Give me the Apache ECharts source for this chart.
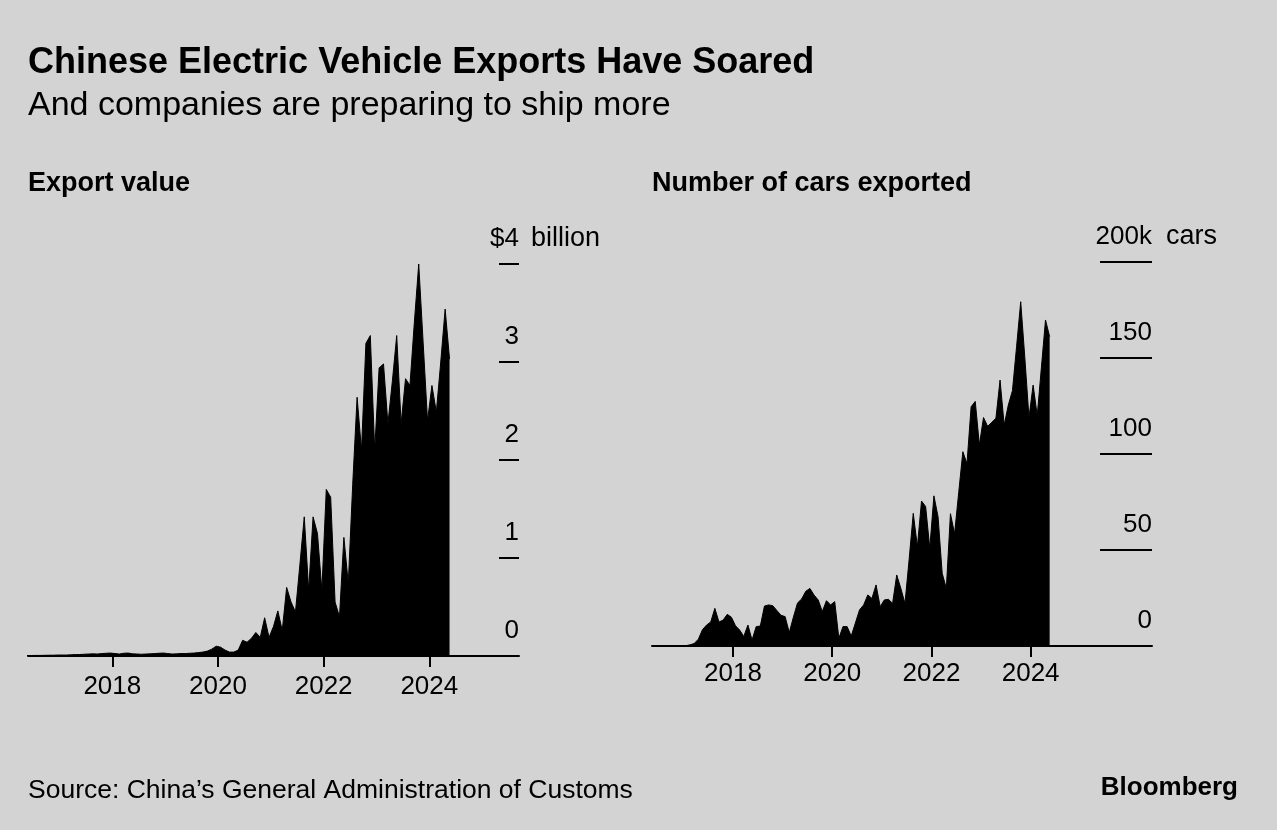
<!DOCTYPE html>
<html><head><meta charset="utf-8">
<script src="https://cdn.jsdelivr.net/npm/echarts@6/dist/echarts.min.js"></script>
<style>html,body{margin:0;padding:0;background:#d3d3d3;}#c{width:1277px;height:830px;}</style>
</head><body><div id="c"></div>
<script>
// ---- data (monthly, first month = May 2016, last = May 2024) ----
const startYear = 2016;
const startMonth = 5;
// Export value, $ billion
const exportValue = [
  0.005,0.005,0.006,0.006,0.007,0.008,0.008,0.01,
  0.01,0.01,0.012,0.015,0.015,0.018,0.02,0.022,0.02,0.025,0.028,0.03,
  0.025,0.02,0.028,0.03,0.022,0.02,0.018,0.02,0.022,0.025,0.028,0.03,
  0.025,0.02,0.022,0.025,0.025,0.028,0.03,0.035,
  0.04,0.05,0.07,0.10,0.09,0.06,0.04,0.04,
  0.06,0.16,0.14,0.18,0.24,0.19,0.39,0.19,0.30,0.46,0.26,0.70,
  0.55,0.45,0.93,1.42,0.67,1.42,1.25,0.67,1.70,1.62,0.55,0.40,
  1.21,0.74,1.75,2.64,2.10,3.19,3.27,2.10,2.94,2.98,2.37,2.80,
  3.27,2.37,2.83,2.76,3.40,4.00,3.20,2.40,2.76,2.49,3.00,3.54,3.03
];
// Number of cars exported, thousands
const carsExported = [
  0,0,0,0,0,0,0,0,
  0.2,0.6,1.3,3.5,8.5,10.9,12.5,19.6,12.5,13.5,16.5,15,
  10.5,8.3,5,10.9,3.1,10.1,10.4,20.8,21.4,21.0,18.5,16,
  15.3,7,15,22.4,24.5,28.5,30,26.5,24,18,23.6,21.4,
  23.1,4,10.1,10.1,5.2,12,18.8,21.4,26.6,24.8,31.8,20.5,
  24.0,24.3,22.2,37.0,30,22.2,45,69.1,51.7,75.5,72.6,50.9,
  78.2,67.3,37.9,30.0,68.9,58.5,80,101.2,95,124.6,127.4,104.7,
  119,114.4,116.5,118.6,138.5,115.1,125.5,133,156,179.3,150,119,
  135.9,120,145,169.8,161.1
];
const yearTicks = [2018, 2020, 2022, 2024];
const valueTicks = [0, 1, 2, 3, 4];
const carTicks = [0, 50, 100, 150, 200];

// ---- chart ----
const INK = '#000';
const BG = '#d3d3d3';
const FONT = '"Liberation Sans", Arial, Helvetica, sans-serif';
function monthPos(i) { return startYear + (startMonth - 1 + i + 0.6) / 12; }
const toPairs = arr => arr.map((v, i) => [monthPos(i), v]);
const vMax = valueTicks[valueTicks.length - 1];
const cMax = carTicks[carTicks.length - 1];

function xAxis(grid, min, max, margin) {
  return {
    gridIndex: grid, type: 'value', min: min, max: max,
    axisLine: { show: true, onZero: false, lineStyle: { color: INK, width: 2 } },
    axisTick: { show: true, customValues: yearTicks, length: 11, lineStyle: { color: INK, width: 2 } },
    axisLabel: { customValues: yearTicks, margin: margin, fontSize: 26, color: INK, fontFamily: FONT, formatter: v => String(v) },
    splitLine: { show: false }
  };
}
function yMain(grid, ticks, tickLen, fmt) {
  return {
    gridIndex: grid, type: 'value', position: 'right', min: ticks[0], max: ticks[ticks.length - 1],
    interval: ticks[1] - ticks[0],
    axisLine: { show: false },
    axisTick: { show: true, inside: true, length: tickLen, lineStyle: { color: INK, width: 2 } },
    axisLabel: { inside: true, margin: 0, fontSize: 26, color: INK, fontFamily: FONT,
      verticalAlign: 'bottom', padding: [0, 0, 12, 0], formatter: fmt },
    splitLine: { show: false }
  };
}
function ySuffix(grid, ticks, margin, fmt) {
  return {
    gridIndex: grid, type: 'value', position: 'right', min: ticks[0], max: ticks[ticks.length - 1],
    interval: ticks[1] - ticks[0],
    axisLine: { show: false }, axisTick: { show: false }, splitLine: { show: false },
    axisLabel: { inside: false, margin: margin, fontSize: 27, color: INK, fontFamily: FONT, align: 'left',
      verticalAlign: 'bottom', padding: [0, 0, 12, 0], formatter: fmt }
  };
}
function areaSeries(xi, yi, arr) {
  return {
    type: 'line', xAxisIndex: xi, yAxisIndex: yi, data: toPairs(arr),
    symbol: 'none', showSymbol: false, silent: true,
    lineStyle: { color: INK, width: 1 }, itemStyle: { color: INK },
    areaStyle: { color: INK, opacity: 1 }
  };
}
const titleBase = { padding: 0 };
const option = {
  animation: false,
  backgroundColor: BG,
  textStyle: { fontFamily: FONT, color: INK },
  title: [
    Object.assign({ text: 'Chinese Electric Vehicle Exports Have Soared', left: 28, top: 45,
      textStyle: { fontSize: 36, fontWeight: 'bold', color: INK, fontFamily: FONT } }, titleBase),
    Object.assign({ text: 'And companies are preparing to ship more', left: 28, top: 89,
      textStyle: { fontSize: 34, fontWeight: 'normal', color: INK, fontFamily: FONT } }, titleBase),
    Object.assign({ text: 'Export value', left: 28, top: 170,
      textStyle: { fontSize: 27, fontWeight: 'bold', color: INK, fontFamily: FONT } }, titleBase),
    Object.assign({ text: 'Number of cars exported', left: 652, top: 170,
      textStyle: { fontSize: 27, fontWeight: 'bold', color: INK, fontFamily: FONT } }, titleBase),
    Object.assign({ text: 'Source: China\u2019s General Administration of Customs', left: 28, top: 777,
      textStyle: { fontSize: 26.5, fontWeight: 'normal', color: INK, fontFamily: FONT } }, titleBase),
    Object.assign({ text: 'Bloomberg', right: 39, top: 775,
      textStyle: { fontSize: 26, fontWeight: 'bold', color: INK, fontFamily: FONT } }, titleBase)
  ],
  grid: [
    { left: 28, top: 264, width: 491, height: 392 },
    { left: 652, top: 262, width: 500, height: 384 }
  ],
  xAxis: [ xAxis(0, 2016.404, 2025.698, 18), xAxis(1, 2016.366, 2026.447, 15) ],
  yAxis: [
    yMain(0, valueTicks, 20, v => v === vMax ? '$' + v : String(v)),
    ySuffix(0, valueTicks, 12, v => v === vMax ? 'billion' : ''),
    yMain(1, carTicks, 52, v => v === cMax ? v + 'k' : String(v)),
    ySuffix(1, carTicks, 14, v => v === cMax ? 'cars' : '')
  ],
  series: [ areaSeries(0, 0, exportValue), areaSeries(1, 2, carsExported) ]
};
const chart = echarts.init(document.getElementById('c'), null, { renderer: 'canvas' });
chart.setOption(option);
</script></body></html>
